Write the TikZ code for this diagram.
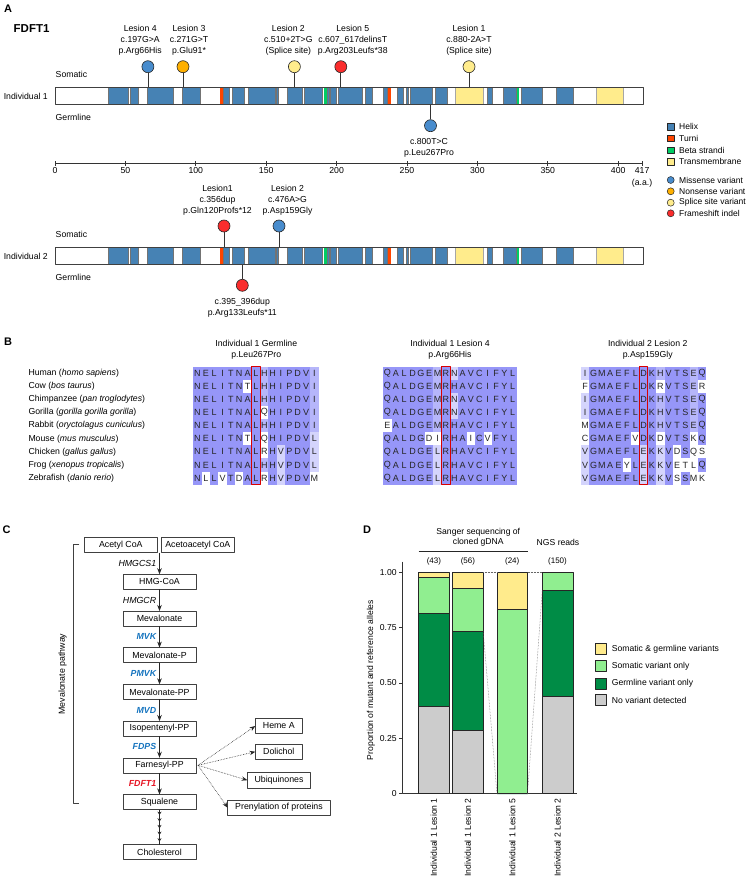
\documentclass[tikz,border=0pt]{standalone}
\usepackage{fontspec}
\setmainfont{Liberation Sans}
\usetikzlibrary{positioning,arrows.meta,decorations.markings}

\definecolor{helixblue}{RGB}{70,130,180}
\definecolor{turnred}{RGB}{255,69,0}
\definecolor{betagreen}{RGB}{0,205,100}
\definecolor{tmyellow}{RGB}{255,236,140}
\definecolor{missense}{RGB}{72,140,205}
\definecolor{nonsense}{RGB}{255,176,0}
\definecolor{splice}{RGB}{255,236,140}
\definecolor{frameshift}{RGB}{250,45,45}
\definecolor{alhi}{RGB}{150,150,248}
\definecolor{almid}{RGB}{182,182,250}
\definecolor{allo}{RGB}{212,212,252}
\definecolor{enzblue}{RGB}{20,115,190}
\definecolor{enzred}{RGB}{230,20,35}
\definecolor{bothcol}{RGB}{255,235,140}
\definecolor{somcol}{RGB}{144,238,144}
\definecolor{germcol}{RGB}{0,140,70}
\definecolor{novarcol}{RGB}{204,204,204}

% gene bar: name, top y
\newcommand\genebar[2]{%
  \foreach \a/\b in {108/128,130.5/138.3,146.7/173.3,181.7/200,223.3/228.7,231.7/244,248.3/275,276/278.3,287.3/301.7,304.3/321.7,327/329,330/335.7,338.3/361.7,365/371.7,383.3/387.3,397.3/403.3,405.7/408.3,410/431.7,435/446.7,487.3/491.7,502.7/515.7,520.7/542.3,556/573.3}
    \filldraw[helix] (\a,#2) rectangle (\b,#2+17);
  \foreach \a/\b in {220/222.7,388.3/391} \fill[turnred] (\a,#2) rectangle (\b,#2+17);
  \foreach \a/\b in {324/326.7,516.7/519} \fill[betagreen] (\a,#2) rectangle (\b,#2+17);
  \foreach \a/\b in {455/483.3,595.7/623.3} \filldraw[tm] (\a,#2) rectangle (\b,#2+17);
  \node[genebox, anchor=north west] (#1) at (55,#2) {};}

% alignment cells: letters and shade codes read side by side
\def\alcell#1#2\relax#3#4\relax{%
  \ifnum#3<3 \fill[al#3] (\alcx,\alcy) rectangle ++(8.35,13.1);\fi
  \pgfmathtruncatemacro\alk{\alk+1}%
  \node[alres] (\alblk-\r-\alk) at (\alcx+4.175,\alcy+6.55) {#1};
  \pgfmathsetmacro\alcx{\alcx+8.35}%
  \ifx\relax#2\relax\else\alcell#2\relax#4\relax\fi}
% block: id, left x, columns, rows
\newcommand\alblock[4]{%
  \def\alblk{#1}%
  \fill[al3] (#2,366.7) rectangle (#2+#3*8.35,484.6);
  \foreach \s/\c [count=\r] in {#4} {%
    \def\alcx{#2}\def\alk{0}\pgfmathsetmacro\alcy{366.7+13.1*(\r-1)}%
    \edef\alrun{\noexpand\alcell\s\relax\c\relax}\alrun}
  \draw[alsel] (#2+7*8.35,366.7) rectangle (#2+8*8.35,484.6);}

\begin{document}
\begin{tikzpicture}[x=1pt,y=-1pt,line join=round,>=Stealth]
\tikzset{
  every node/.style={inner sep=0pt},
  lab/.style={font=\fontsize{8.7}{11}\selectfont},
  leslab/.style={font=\fontsize{8.7}{11}\selectfont, align=center},
  panel/.style={font=\fontsize{11}{13}\selectfont\bfseries},
  helix/.style={fill=helixblue, draw=black!55, line width=0.35pt},
  tm/.style={fill=tmyellow, draw=black!35, line width=0.35pt},
  genebox/.style={draw=black!75, line width=0.8pt, minimum width=588pt, minimum height=17pt},
  lolly/.style={circle, draw=black!85, line width=0.6pt, minimum size=12pt},
  stem/.style={draw=black!80, line width=0.8pt},
  legkey/.style={draw=black!85, line width=0.5pt, minimum size=6.5pt},
  al0/.style={fill=white}, al1/.style={fill=allo}, al2/.style={fill=almid}, al3/.style={fill=alhi},
  alres/.style={font=\fontsize{9}{10}\selectfont, text=black!85},
  alsel/.style={draw=red!85!black, line width=0.8pt},
  cbox/.style={draw=black!75, line width=0.6pt, minimum width=73pt, minimum height=15pt, outer sep=0pt, font=\fontsize{8.8}{10}\selectfont},
  enz/.style={left=3pt, font=\fontsize{8.8}{10}\selectfont\itshape},
  enzb/.style={enz, text=enzblue, font=\fontsize{8.8}{10}\selectfont\bfseries\itshape},
  arr/.style={->, line width=0.7pt, draw=black!85},
  dotarr/.style={->, densely dotted, line width=0.6pt, draw=black!85},
  multistep/.style={line width=0.7pt, draw=black!85, postaction={decorate},
    decoration={markings, mark=between positions 0.16 and 0.97 step 0.19 with {\arrow{Stealth[length=3.5pt,width=4pt]}}}},
  seg/.style={draw=black!85, line width=0.6pt},
  dots/.style={densely dotted, draw=black!60, line width=0.5pt}
}
\useasboundingbox (0,0) rectangle (748,880);

% ---------- A
\node[panel] (pA) at (8,8.5) {A};
\node[panel, anchor=west, font=\fontsize{11.5}{13}\selectfont\bfseries] (gene) at (13.5,28.5) {FDFT1};

\genebar{bar1}{87}
\genebar{bar2}{247}
\node[lab, anchor=east] (ind1) at (48,96) {Individual 1};
\node[lab, anchor=east] (ind2) at (48,256) {Individual 2};
\foreach \y/\t [count=\i] in {74/Somatic,117/Germline,234/Somatic,277/Germline}
  \node[lab, anchor=west] (sg\i) at (55.5,\y) {\t};

% individual 1
\node[lolly, fill=missense] (l4) at (147.9,66.7) {};
\node[lolly, fill=nonsense] (l3) at (183,66.7) {};
\node[lolly, fill=splice] (l2) at (294.4,66.7) {};
\node[lolly, fill=frameshift] (l5) at (340.8,66.7) {};
\node[lolly, fill=splice] (l1) at (469,66.7) {};
\node[lolly, fill=missense] (g1) at (430.5,125.7) {};
\foreach \n in {l4,l3,l2,l5,l1} \draw[stem] (\n) -- (\n |- bar1.north);
\draw[stem] (g1) -- (g1 |- bar1.south);
\node[leslab, above=4.5pt of l4, xshift=-7.7pt] (l4t) {Lesion 4\\c.197G>A\\p.Arg66His};
\node[leslab, above=4.5pt of l3, xshift=6pt] (l3t) {Lesion 3\\c.271G>T\\p.Glu91*};
\node[leslab, above=4.5pt of l2, xshift=-6pt] (l2t) {Lesion 2\\c.510+2T>G\\(Splice site)};
\node[leslab, above=4.5pt of l5, xshift=12pt] (l5t) {Lesion 5\\c.607\_617delinsT\\p.Arg203Leufs*38};
\node[leslab, above=4.5pt of l1] (l1t) {Lesion 1\\c.880-2A>T\\(Splice site)};
\node[leslab, below=6pt of g1, xshift=-1.5pt] (g1t) {c.800T>C\\p.Leu267Pro};

% axis
\draw[line width=0.7pt, draw=black!80] (55,163) -- (642.1,163);
\foreach \t in {0,50,...,400}
  \draw[line width=0.7pt, draw=black!80] (55+1.408*\t,161) -- (55+1.408*\t,165.5) node[lab, below=2pt] (t\t) {\t};
\draw[line width=0.7pt, draw=black!80] (642.1,161) -- (642.1,165.5) node[lab, below=2pt, align=center, font=\fontsize{8.7}{11.5}\selectfont] (t417) {417\\(a.a.)};

% individual 2
\node[lolly, fill=frameshift] (m1) at (224,226) {};
\node[lolly, fill=missense] (m2) at (279,226) {};
\node[lolly, fill=frameshift] (h1) at (242.3,285.3) {};
\foreach \n in {m1,m2} \draw[stem] (\n) -- (\n |- bar2.north);
\draw[stem] (h1) -- (h1 |- bar2.south);
\node[leslab, above=4.5pt of m1, xshift=-6.5pt] (m1t) {Lesion1\\c.356dup\\p.Gln120Profs*12};
\node[leslab, above=4.5pt of m2, xshift=8.5pt] (m2t) {Lesion 2\\c.476A>G\\p.Asp159Gly};
\node[leslab, below=6pt of h1] (h1t) {c.395\_396dup\\p.Arg133Leufs*11};

% legend
\foreach \c/\t/\y [count=\i] in {helixblue/Helix/126.7, turnred/Turni/138.3, betagreen/Beta strandi/150, tmyellow/Transmembrane/161.7}{
  \node[legkey, fill=\c] (dk\i) at (670.7,\y) {};
  \node[lab, anchor=west, font=\fontsize{8.5}{10}\selectfont] (dt\i) at (679,\y) {\t};}
\foreach \c/\t/\y [count=\i] in {missense/Missense variant/180, nonsense/Nonsense variant/191.3, splice/Splice site variant/202.7, frameshift/Frameshift indel/213.3}{
  \node[legkey, circle, minimum size=7pt, fill=\c] (vk\i) at (670.7,\y) {};
  \node[lab, anchor=west, font=\fontsize{8.5}{10}\selectfont] (vt\i) at (679,\y) {\t};}

% ---------- B
\node[panel] (pB) at (8,342) {B};
\node[lab, align=center] (hb1) at (256.3,349.5) {Individual 1 Germline\\p.Leu267Pro};
\node[lab, align=center] (hb2) at (450,349.5) {Individual 1 Lesion 4\\p.Arg66His};
\node[lab, align=center] (hb3) at (647.7,349.5) {Individual 2 Lesion 2\\p.Asp159Gly};
\foreach \n/\l [count=\i] in {Human/homo sapiens, Cow/bos taurus, Chimpanzee/pan troglodytes, Gorilla/gorilla gorilla gorilla, Rabbit/oryctolagus cuniculus, Mouse/mus musculus, Chicken/gallus gallus, Frog/xenopus tropicalis, Zebrafish/danio rerio}
  \node[lab, anchor=west] (sp\i) at (28.3,{360.15+13.1*\i}) {\n\ (\textit{\l})};

\alblock{a}{193.3}{15}{NELITNALHHIPDVI/333333332333332, NELITNTLHHIPDVI/333333032333332,
  NELITNALHHIPDVI/333333332333332, NELITNALQHIPDVI/333333330333332,
  NELITNALHHIPDVI/333333332333332, NELITNTLQHIPDVL/333333030333331,
  NELITNALRHVPDVL/333333330313331, NELITNALHHVPDVL/333333332313331,
  NLLVTDALRHVPDVM/303030330313330}
\alblock{b}{383.3}{16}{QALDGEMRNAVCIFYL/3333332313333333, QALDGEMRHAVCIFYL/3333332333333333,
  QALDGEMRNAVCIFYL/3333332313333333, QALDGEMRNAVCIFYL/3333332313333333,
  EALDGEMRHAVCIFYL/0333332333333333, QALDGDIRHAICVFYL/3333300333030333,
  QALDGELRHAVCIFYL/3333331333333333, QALDGELRHAVCIFYL/3333331333333333,
  QALDGELRHAVCIFYL/3333331333333333}
\alblock{c}{581}{15}{IGMAEFLDKHVTSEQ/133333333233323, FGMAEFLDKRVTSER/033333333033320,
  IGMAEFLDKHVTSEQ/133333333233323, IGMAEFLDKHVTSEQ/133333333233323,
  MGMAEFLDKHVTSEQ/033333333233323, CGMAEFVDKDVTSKQ/033333033033303,
  VGMAEFLEKKVDSQS/133333313130300, VGMAEYLEKKVETLQ/133330313130003,
  VGMAEFLEKKVSSMK/133333313130300}

% ---------- C
\node[panel] (pC) at (6.5,529.5) {C};
\node[cbox] (acetyl) at (120.8,545) {Acetyl CoA};
\node[cbox, right=4pt of acetyl] (acac) {Acetoacetyl CoA};
\node[cbox] (hmg) at (159.5,581.8) {HMG-CoA};
\node[cbox, below=21.7pt of hmg] (mev) {Mevalonate};
\node[cbox, below=21.7pt of mev] (mevp) {Mevalonate-P};
\node[cbox, below=21.7pt of mevp] (mevpp) {Mevalonate-PP};
\node[cbox, below=21.7pt of mevpp] (ipp) {Isopentenyl-PP};
\node[cbox, below=21.7pt of ipp] (fpp) {Farnesyl-PP};
\node[cbox, below=21.7pt of fpp] (squal) {Squalene};
\node[cbox, below=35pt of squal] (chol) {Cholesterol};
\draw[arr] (hmg.north |- acetyl.south) -- node[enz] (e1) {HMGCS1} (hmg);
\draw[arr] (hmg) -- node[enz] (e2) {HMGCR} (mev);
\draw[arr] (mev) -- node[enzb] (e3) {MVK} (mevp);
\draw[arr] (mevp) -- node[enzb] (e4) {PMVK} (mevpp);
\draw[arr] (mevpp) -- node[enzb] (e5) {MVD} (ipp);
\draw[arr] (ipp) -- node[enzb] (e6) {FDPS} (fpp);
\draw[arr] (fpp) -- node[enzb, text=enzred] (e7) {FDFT1} (squal);
\draw[multistep] (squal) -- (chol);

\node[cbox, minimum width=47pt, minimum height=15.3pt] (heme) at (278.8,726) {Heme A};
\node[cbox, minimum width=47pt, minimum height=15.3pt] (doli) at (278.8,751.7) {Dolichol};
\node[cbox, minimum width=63.3pt, minimum height=15.3pt] (ubiq) at (279,780.2) {Ubiquinones};
\node[cbox, minimum width=102.7pt, minimum height=15.3pt] (pren) at (279,807.7) {Prenylation of proteins};
\coordinate (fppo) at ([xshift=2pt]fpp.east);
\foreach \n in {heme,doli,ubiq,pren} \draw[dotarr] (fppo) -- (\n.west);

\draw[line width=0.6pt, draw=black!75] (79.3,544.3) -- (73.3,544.3) -- (73.3,803.3) -- (79.3,803.3);
\node[lab, rotate=90, font=\fontsize{8.8}{10}\selectfont] (mvp) at (62.7,674) {Mevalonate pathway};

% ---------- D
\node[panel] (pD) at (367,529.5) {D};
\node[lab, align=center, font=\fontsize{8.6}{10.4}\selectfont] (sanger) at (478.3,537.5) {Sanger sequencing of\\cloned gDNA};
\draw[line width=0.6pt, draw=black!85] (418.7,551) -- (528,551);
\node[lab, font=\fontsize{8.6}{10}\selectfont] (ngs) at (558,542.7) {NGS reads};
\foreach \x/\n [count=\i] in {433.9/43, 467.9/56, 512.2/24, 557.5/150}
  \node[lab, font=\fontsize{8}{10}\selectfont] (n\i) at (\x,561) {(\n)};

\begin{scope}[shift={(0,793.7)}, y=221.4pt]
  \draw[line width=0.7pt, draw=black!80] (402.3,1.048) -- (402.3,0) -- (576.7,0);
  \foreach \v/\t [count=\i] in {0/0,0.25/0.25,0.5/0.50,0.75/0.75,1/1.00}
    \draw[line width=0.7pt, draw=black!80] (402.3,\v) -- (398.5,\v) node[lab, left=1.5pt, font=\fontsize{8.6}{10}\selectfont] (yt\i) {\t};
  \foreach \x/\a/\b/\c in {418.7/0.395/0.814/0.977, 452.7/0.286/0.732/0.929, 497/0/0/0.833, 542.3/0.44/0.92/1} {
    \filldraw[seg, fill=novarcol] (\x,0) rectangle (\x+30.5,\a);
    \filldraw[seg, fill=germcol] (\x,\a) rectangle (\x+30.5,\b);
    \filldraw[seg, fill=somcol] (\x,\b) rectangle (\x+30.5,\c);
    \filldraw[seg, fill=bothcol] (\x,\c) rectangle (\x+30.5,1);}
  \draw[dots] (483.2,1) -- (497,1);
  \draw[dots] (527.5,1) -- (542.3,1);
  \draw[dots] (483.2,0.732) -- (497,0);
  \draw[dots] (527.5,0) -- (542.3,0.92);
\end{scope}
\node[lab, rotate=90, font=\fontsize{8.6}{10}\selectfont] (ylab) at (371,680) {Proportion of mutant and reference alleles};
\foreach \x/\t [count=\i] in {433.9/Individual 1 Lesion 1, 467.9/Individual 1 Lesion 2, 512.2/Individual 1 Lesion 5, 557.5/Individual 2 Lesion 2}
  \node[lab, rotate=90, anchor=east, font=\fontsize{8.6}{10}\selectfont] (xl\i) at (\x,798) {\t};

\foreach \c/\t/\y [count=\i] in {bothcol/Somatic \& germline variants/649, somcol/Somatic variant only/666, germcol/Germline variant only/683.3, novarcol/No variant detected/700}{
  \node[legkey, minimum size=11pt, fill=\c] (gk\i) at (601.2,\y) {};
  \node[lab, anchor=west, font=\fontsize{8.6}{10}\selectfont] (gt\i) at (611.7,\y) {\t};}
\end{tikzpicture}
\end{document}
